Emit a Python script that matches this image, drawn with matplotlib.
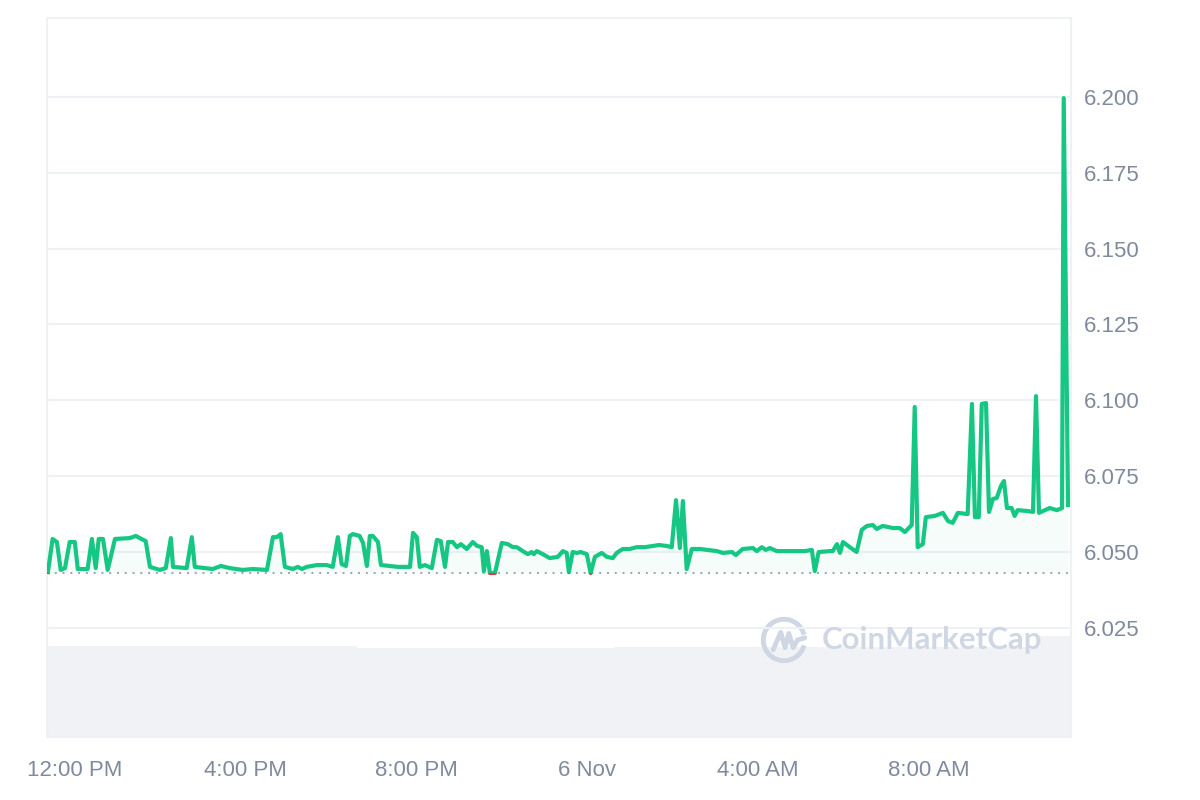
import matplotlib
matplotlib.use('Agg')
import matplotlib.pyplot as plt
from matplotlib.patches import Rectangle, Arc

plt.rcParams['font.family'] = ['Liberation Sans', 'DejaVu Sans']

# price series, time in hours after 12:00 PM (5 Nov)
hours = [
    -0.63, -0.52, -0.42, -0.33, -0.23, -0.12, 0.00, 0.07, 0.30, 0.40,
    0.49, 0.56, 0.66, 0.77, 0.94, 1.29, 1.43, 1.52, 1.66, 1.76,
    1.99, 2.13, 2.25, 2.30, 2.62, 2.74, 2.81, 3.23, 3.42, 3.63,
    3.93, 4.17, 4.50, 4.64, 4.73, 4.82, 4.92, 5.11, 5.22, 5.32,
    5.43, 5.67, 5.90, 6.04, 6.16, 6.25, 6.35, 6.44, 6.51, 6.67,
    6.75, 6.84, 6.91, 6.98, 7.10, 7.17, 7.38, 7.56, 7.85, 7.92,
    8.01, 8.08, 8.20, 8.36, 8.48, 8.57, 8.67, 8.74, 8.85, 8.95,
    9.04, 9.18, 9.32, 9.42, 9.53, 9.58, 9.65, 9.72, 9.84, 10.00,
    10.14, 10.26, 10.35, 10.49, 10.61, 10.70, 10.75, 10.82, 10.96, 11.12,
    11.31, 11.43, 11.52, 11.57, 11.66, 11.76, 11.85, 11.99, 12.08, 12.18,
    12.34, 12.46, 12.60, 12.69, 12.83, 13.00, 13.16, 13.35, 13.54, 13.68,
    13.86, 13.98, 14.08, 14.17, 14.24, 14.33, 14.45, 14.64, 14.82, 15.04,
    15.18, 15.39, 15.48, 15.64, 15.88, 15.97, 16.09, 16.18, 16.28, 16.44,
    16.70, 16.91, 17.10, 17.26, 17.33, 17.42, 17.68, 17.75, 17.85, 17.92,
    17.99, 18.15, 18.31, 18.43, 18.55, 18.69, 18.78, 18.92, 19.16, 19.32,
    19.44, 19.60, 19.67, 19.74, 19.86, 19.93, 20.14, 20.33, 20.45, 20.56,
    20.68, 20.91, 21.01, 21.08, 21.17, 21.24, 21.34, 21.41, 21.50, 21.59,
    21.69, 21.76, 21.83, 21.94, 22.01, 22.08, 22.32, 22.44, 22.51, 22.58,
    22.83, 23.00, 23.12, 23.16, 23.26,
]
prices = [
    6.0434, 6.0543, 6.0533, 6.0441, 6.0447, 6.0533, 6.0533, 6.0444, 6.0444, 6.0543,
    6.0447, 6.0543, 6.0543, 6.0441, 6.0543, 6.0546, 6.0553, 6.0546, 6.0536, 6.0451,
    6.0441, 6.0447, 6.0546, 6.0451, 6.0447, 6.0549, 6.0451, 6.0444, 6.0454, 6.0447,
    6.0441, 6.0444, 6.0441, 6.0549, 6.0549, 6.0559, 6.0451, 6.0444, 6.0451, 6.0444,
    6.0451, 6.0457, 6.0457, 6.0451, 6.0549, 6.0460, 6.0454, 6.0553, 6.0559, 6.0553,
    6.0530, 6.0454, 6.0553, 6.0553, 6.0533, 6.0457, 6.0454, 6.0451, 6.0451, 6.0563,
    6.0549, 6.0451, 6.0457, 6.0447, 6.0540, 6.0536, 6.0451, 6.0533, 6.0533, 6.0516,
    6.0526, 6.0510, 6.0533, 6.0520, 6.0516, 6.0437, 6.0503, 6.0431, 6.0431, 6.0530,
    6.0526, 6.0516, 6.0516, 6.0503, 6.0493, 6.0500, 6.0493, 6.0503, 6.0493, 6.0480,
    6.0484, 6.0503, 6.0497, 6.0434, 6.0500, 6.0497, 6.0500, 6.0493, 6.0431, 6.0484,
    6.0497, 6.0484, 6.0480, 6.0497, 6.0510, 6.0510, 6.0516, 6.0516, 6.0520, 6.0523,
    6.0520, 6.0516, 6.0671, 6.0513, 6.0668, 6.0444, 6.0510, 6.0510, 6.0507, 6.0503,
    6.0497, 6.0500, 6.0490, 6.0510, 6.0513, 6.0503, 6.0516, 6.0507, 6.0513, 6.0503,
    6.0503, 6.0503, 6.0503, 6.0507, 6.0437, 6.0500, 6.0503, 6.0503, 6.0526, 6.0497,
    6.0533, 6.0516, 6.0500, 6.0573, 6.0586, 6.0589, 6.0576, 6.0586, 6.0579, 6.0579,
    6.0566, 6.0589, 6.0978, 6.0516, 6.0526, 6.0615, 6.0619, 6.0629, 6.0602, 6.0596,
    6.0629, 6.0625, 6.0988, 6.0615, 6.0615, 6.0988, 6.0991, 6.0632, 6.0675, 6.0678,
    6.0718, 6.0734, 6.0645, 6.0645, 6.0619, 6.0638, 6.0635, 6.0632, 6.1014, 6.0629,
    6.0645, 6.0638, 6.0645, 6.1996, 6.0655,
]
open_price = 6.0432

# volume blocks (start hour, end hour, height)
vol_start = [-0.66, 6.60, 12.62, 22.60]
vol_end = [6.60, 12.62, 22.60, 23.33]
vol = [9.1, 8.9, 9.0, 10.1]

tick_hours = [0, 4, 8, 12, 16, 20]
tick_labels = ['12:00 PM', '4:00 PM', '8:00 PM', '6 Nov', '4:00 AM', '8:00 AM']
price_ticks = [6.025, 6.050, 6.075, 6.100, 6.125, 6.150, 6.175, 6.200]

green = '#16c784'
red = '#ea3943'
grid_c = '#eff2f5'
text_c = '#808a9d'

fig = plt.figure(figsize=(12, 8), dpi=100)
ax = fig.add_axes([0.039, 0.079, 0.8535, 0.8985])
axv = ax.twinx()

# volume bars on their own scale, behind the price line
axv.bar(vol_start, vol, width=[e - s for s, e in zip(vol_start, vol_end)],
        align='edge', color='#f0f2f5', linewidth=0)
axv.set_ylim(0, 71.9)
axv.axis('off')
ax.set_zorder(axv.get_zorder() + 1)
ax.patch.set_visible(False)

xmin, xmax = -0.656, 23.33
ymin, ymax = 5.9891, 6.2260
ax.set_xlim(xmin, xmax)
ax.set_ylim(ymin, ymax)

for t in price_ticks:
    ax.axhline(t, color=grid_c, lw=1.5, zorder=0)

ax.fill_between(hours, prices, open_price, where=[p >= open_price for p in prices],
                interpolate=True, color=green, alpha=0.04, lw=0)

ax.axhline(open_price, color='#9aa3b2', lw=1.4, linestyle=(0, (1, 3)), zorder=2)

up = ax.plot(hours, prices, color=green, lw=3.0, solid_joinstyle='round', zorder=3)[0]
up.set_clip_path(Rectangle((xmin, open_price), xmax - xmin, ymax - open_price,
                           transform=ax.transData))
down = ax.plot(hours, prices, color=red, lw=3.0, solid_joinstyle='round', zorder=3)[0]
down.set_clip_path(Rectangle((xmin, ymin), xmax - xmin, open_price - ymin,
                             transform=ax.transData))

ax.set_xticks(tick_hours)
ax.set_xticklabels(tick_labels)
ax.set_yticks(price_ticks)
ax.set_yticklabels([f'{t:.3f}' for t in price_ticks])
ax.yaxis.tick_right()
ax.tick_params(axis='both', length=0, labelsize=16, colors=text_c)
ax.tick_params(axis='y', pad=9)
ax.tick_params(axis='x', pad=17)
for s in ax.spines.values():
    s.set_color(grid_c)
    s.set_linewidth(1.5)

# CoinMarketCap watermark
logo = fig.add_axes([760 / 1200, (800 - 664) / 800, 48 / 1200, 48 / 800])
logo.set_xlim(-1.1, 1.1)
logo.set_ylim(-1.1, 1.1)
logo.axis('off')
wm = '#cfd6e4'
logo.add_patch(Arc((0, 0), 1.9, 1.9, theta1=15, theta2=345, color=wm, lw=3.5))
logo.plot([-0.5, -0.15, 0.05, 0.22, 0.42, 0.62, 0.95],
          [-0.45, 0.35, -0.35, 0.3, -0.35, 0.0, 0.1], color=wm, lw=3.5,
          solid_joinstyle='round', solid_capstyle='round')
fig.text(822 / 1200, 1 - 640 / 800, 'CoinMarketCap', fontsize=22.5, fontweight='bold',
         color=wm, va='center', ha='left', family=['Lato', 'DejaVu Sans'])

fig.savefig('out.png', dpi=100, facecolor='white')
